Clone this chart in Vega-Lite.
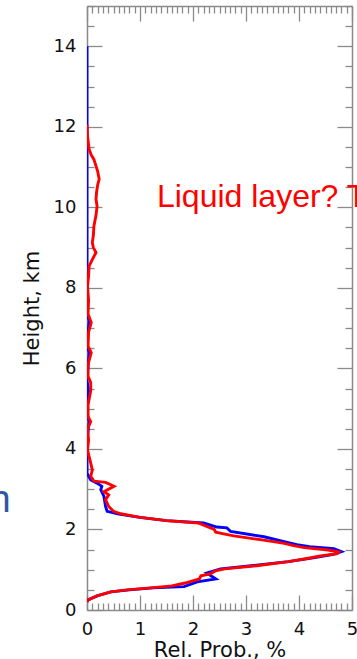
{
  "$schema": "https://vega.github.io/schema/vega-lite/v6.json",
  "autosize": "none",
  "width": 265,
  "height": 604,
  "padding": {"left": 87, "top": 6, "right": 5, "bottom": 49},
  "background": "white",
  "config": {
    "view": {"stroke": null},
    "axis": {
      "labelFont": "DejaVu Sans", "labelFontSize": 18, "labelColor": "#111",
      "titleFont": "DejaVu Sans", "titleFontSize": 21, "titleFontWeight": "normal", "titleColor": "#111",
      "domainColor": "#8a8a8a", "domainWidth": 1.5, "tickColor": "#8a8a8a", "tickWidth": 1.3, "grid": false
    }
  },
  "datasets": {
    "profiles": [
      {"s": "red", "h": 0.20, "p": 0.0}, {"s": "red", "h": 0.25, "p": 0.02}, {"s": "red", "h": 0.35, "p": 0.19},
      {"s": "red", "h": 0.45, "p": 0.45}, {"s": "red", "h": 0.50, "p": 0.75}, {"s": "red", "h": 0.55, "p": 1.2},
      {"s": "red", "h": 0.60, "p": 1.6}, {"s": "red", "h": 0.67, "p": 1.85}, {"s": "red", "h": 0.77, "p": 2.12},
      {"s": "red", "h": 0.85, "p": 2.15}, {"s": "red", "h": 0.90, "p": 2.33}, {"s": "red", "h": 0.97, "p": 2.42},
      {"s": "red", "h": 1.02, "p": 2.6}, {"s": "red", "h": 1.10, "p": 3.2}, {"s": "red", "h": 1.20, "p": 3.8},
      {"s": "red", "h": 1.28, "p": 4.15}, {"s": "red", "h": 1.34, "p": 4.4}, {"s": "red", "h": 1.40, "p": 4.72},
      {"s": "red", "h": 1.44, "p": 4.75}, {"s": "red", "h": 1.49, "p": 4.55}, {"s": "red", "h": 1.55, "p": 4.1},
      {"s": "red", "h": 1.60, "p": 3.9}, {"s": "red", "h": 1.66, "p": 3.7}, {"s": "red", "h": 1.74, "p": 3.3},
      {"s": "red", "h": 1.84, "p": 2.77}, {"s": "red", "h": 1.89, "p": 2.58}, {"s": "red", "h": 1.93, "p": 2.43},
      {"s": "red", "h": 2.00, "p": 2.40}, {"s": "red", "h": 2.07, "p": 2.27}, {"s": "red", "h": 2.16, "p": 2.1},
      {"s": "red", "h": 2.22, "p": 1.5}, {"s": "red", "h": 2.30, "p": 1.0}, {"s": "red", "h": 2.39, "p": 0.64},
      {"s": "red", "h": 2.45, "p": 0.5}, {"s": "red", "h": 2.57, "p": 0.41}, {"s": "red", "h": 2.74, "p": 0.35},
      {"s": "red", "h": 2.86, "p": 0.41}, {"s": "red", "h": 2.94, "p": 0.32}, {"s": "red", "h": 3.07, "p": 0.51},
      {"s": "red", "h": 3.13, "p": 0.42}, {"s": "red", "h": 3.17, "p": 0.35}, {"s": "red", "h": 3.20, "p": 0.13},
      {"s": "red", "h": 3.32, "p": 0.07}, {"s": "red", "h": 3.48, "p": 0.1}, {"s": "red", "h": 3.65, "p": 0.07},
      {"s": "red", "h": 3.81, "p": 0.04}, {"s": "red", "h": 3.98, "p": 0.01}, {"s": "red", "h": 4.23, "p": 0.03},
      {"s": "red", "h": 4.5, "p": 0.01}, {"s": "red", "h": 4.68, "p": 0.07}, {"s": "red", "h": 4.8, "p": 0.02},
      {"s": "red", "h": 5.1, "p": 0.02}, {"s": "red", "h": 5.44, "p": 0.07}, {"s": "red", "h": 5.65, "p": 0.07},
      {"s": "red", "h": 5.8, "p": 0.02}, {"s": "red", "h": 6.1, "p": 0.02}, {"s": "red", "h": 6.39, "p": 0.08},
      {"s": "red", "h": 6.55, "p": 0.02}, {"s": "red", "h": 6.9, "p": 0.03}, {"s": "red", "h": 7.14, "p": 0.08},
      {"s": "red", "h": 7.35, "p": 0.02}, {"s": "red", "h": 7.7, "p": 0.03}, {"s": "red", "h": 8.04, "p": 0.01},
      {"s": "red", "h": 8.3, "p": 0.03}, {"s": "red", "h": 8.54, "p": 0.04}, {"s": "red", "h": 8.7, "p": 0.1},
      {"s": "red", "h": 8.88, "p": 0.17}, {"s": "red", "h": 9.0, "p": 0.12}, {"s": "red", "h": 9.13, "p": 0.1},
      {"s": "red", "h": 9.3, "p": 0.12}, {"s": "red", "h": 9.53, "p": 0.13}, {"s": "red", "h": 9.8, "p": 0.17},
      {"s": "red", "h": 10.03, "p": 0.19}, {"s": "red", "h": 10.2, "p": 0.17}, {"s": "red", "h": 10.37, "p": 0.18},
      {"s": "red", "h": 10.55, "p": 0.2}, {"s": "red", "h": 10.7, "p": 0.23}, {"s": "red", "h": 10.9, "p": 0.2},
      {"s": "red", "h": 11.19, "p": 0.13}, {"s": "red", "h": 11.3, "p": 0.08}, {"s": "red", "h": 11.44, "p": 0.04},
      {"s": "red", "h": 11.77, "p": 0.01}, {"s": "red", "h": 12.05, "p": 0.0},
      {"s": "blue", "h": 0.20, "p": 0.0}, {"s": "blue", "h": 0.25, "p": 0.02}, {"s": "blue", "h": 0.35, "p": 0.19},
      {"s": "blue", "h": 0.45, "p": 0.45}, {"s": "blue", "h": 0.50, "p": 0.8}, {"s": "blue", "h": 0.55, "p": 1.25},
      {"s": "blue", "h": 0.58, "p": 1.83}, {"s": "blue", "h": 0.70, "p": 2.08}, {"s": "blue", "h": 0.77, "p": 2.43},
      {"s": "blue", "h": 0.83, "p": 2.36}, {"s": "blue", "h": 0.92, "p": 2.26}, {"s": "blue", "h": 1.02, "p": 2.52},
      {"s": "blue", "h": 1.10, "p": 3.1}, {"s": "blue", "h": 1.20, "p": 3.8}, {"s": "blue", "h": 1.30, "p": 4.3},
      {"s": "blue", "h": 1.38, "p": 4.65}, {"s": "blue", "h": 1.45, "p": 4.8}, {"s": "blue", "h": 1.52, "p": 4.66},
      {"s": "blue", "h": 1.57, "p": 4.2}, {"s": "blue", "h": 1.62, "p": 3.96}, {"s": "blue", "h": 1.70, "p": 3.72},
      {"s": "blue", "h": 1.82, "p": 3.34}, {"s": "blue", "h": 1.95, "p": 2.71}, {"s": "blue", "h": 2.04, "p": 2.64},
      {"s": "blue", "h": 2.06, "p": 2.45}, {"s": "blue", "h": 2.16, "p": 2.2}, {"s": "blue", "h": 2.22, "p": 1.5},
      {"s": "blue", "h": 2.30, "p": 1.0}, {"s": "blue", "h": 2.38, "p": 0.6}, {"s": "blue", "h": 2.45, "p": 0.38},
      {"s": "blue", "h": 2.57, "p": 0.35}, {"s": "blue", "h": 2.82, "p": 0.32}, {"s": "blue", "h": 2.99, "p": 0.26},
      {"s": "blue", "h": 3.07, "p": 0.28}, {"s": "blue", "h": 3.15, "p": 0.19}, {"s": "blue", "h": 3.23, "p": 0.07},
      {"s": "blue", "h": 3.40, "p": 0.0}, {"s": "blue", "h": 3.8, "p": 0.0}, {"s": "blue", "h": 4.2, "p": 0.0},
      {"s": "blue", "h": 4.68, "p": 0.04}, {"s": "blue", "h": 4.9, "p": 0.0}, {"s": "blue", "h": 5.44, "p": 0.03},
      {"s": "blue", "h": 5.7, "p": 0.0}, {"s": "blue", "h": 6.39, "p": 0.04}, {"s": "blue", "h": 6.6, "p": 0.0},
      {"s": "blue", "h": 7.18, "p": 0.04}, {"s": "blue", "h": 7.4, "p": 0.0}, {"s": "blue", "h": 9.0, "p": 0.0},
      {"s": "blue", "h": 14.0, "p": 0.0}
    ],
    "notes": [
      {"t": "Liquid layer? T", "p": 1.32, "h": 10.0, "c": "red"},
      {"t": "n", "p": -1.84, "h": 2.44, "c": "blue"}
    ]
  },
  "layer": [
    {
      "data": {"name": "profiles"},
      "transform": [{"filter": "datum.s === 'blue'"}],
      "mark": {"type": "line", "color": "#0000ff", "strokeWidth": 2.9, "clip": true},
      "encoding": {
        "x": {"field": "p", "type": "quantitative", "scale": {"domain": [0, 5], "nice": false},
          "axis": {"orient": "bottom", "title": "Rel. Prob., %",
            "values": [0,0.1,0.2,0.3,0.4,0.5,0.6,0.7,0.8,0.9,1,1.1,1.2,1.3,1.4,1.5,1.6,1.7,1.8,1.9,2,2.1,2.2,2.3,2.4,2.5,2.6,2.7,2.8,2.9,3,3.1,3.2,3.3,3.4,3.5,3.6,3.7,3.8,3.9,4,4.1,4.2,4.3,4.4,4.5,4.6,4.7,4.8,4.9,5],
            "labelExpr": "abs(datum.value - round(datum.value)) < 0.001 ? format(round(datum.value), 'd') : ''",
            "tickSize": {"condition": {"test": "abs(datum.value - round(datum.value)) < 0.001", "value": -15}, "value": -7},
            "labelPadding": 25, "labelBaseline": "top", "titlePadding": -7, "labelFlush": false, "labelOverlap": false}},
        "y": {"field": "h", "type": "quantitative", "scale": {"domain": [0, 15], "nice": false},
          "axis": {"orient": "left", "title": "Height, km",
            "values": [0,0.5,1,1.5,2,2.5,3,3.5,4,4.5,5,5.5,6,6.5,7,7.5,8,8.5,9,9.5,10,10.5,11,11.5,12,12.5,13,13.5,14,14.5,15],
            "labelExpr": "datum.value % 2 === 0 && datum.value < 15 ? format(datum.value, 'd') : ''",
            "tickSize": {"condition": {"test": "datum.value % 2 === 0", "value": -15}, "value": -7},
            "labelPadding": 26, "titlePadding": 11, "labelFlush": false, "labelOverlap": false}},
        "order": {"field": "h", "type": "quantitative"}
      }
    },
    {
      "data": {"name": "profiles"},
      "transform": [{"filter": "datum.s === 'red'"}],
      "mark": {"type": "line", "color": "#ff0000", "strokeWidth": 2.9, "clip": true},
      "encoding": {
        "x": {"field": "p", "type": "quantitative",
          "axis": {"orient": "top", "title": null, "labels": false,
            "values": [0,0.1,0.2,0.3,0.4,0.5,0.6,0.7,0.8,0.9,1,1.1,1.2,1.3,1.4,1.5,1.6,1.7,1.8,1.9,2,2.1,2.2,2.3,2.4,2.5,2.6,2.7,2.8,2.9,3,3.1,3.2,3.3,3.4,3.5,3.6,3.7,3.8,3.9,4,4.1,4.2,4.3,4.4,4.5,4.6,4.7,4.8,4.9,5],
            "tickSize": {"condition": {"test": "abs(datum.value - round(datum.value)) < 0.001", "value": -15}, "value": -7}}},
        "y": {"field": "h", "type": "quantitative",
          "axis": {"orient": "right", "title": null, "labels": false,
            "values": [0,0.5,1,1.5,2,2.5,3,3.5,4,4.5,5,5.5,6,6.5,7,7.5,8,8.5,9,9.5,10,10.5,11,11.5,12,12.5,13,13.5,14,14.5,15],
            "tickSize": {"condition": {"test": "datum.value % 2 === 0", "value": -15}, "value": -7}}},
        "order": {"field": "h", "type": "quantitative"}
      }
    },
    {
      "data": {"name": "notes"},
      "mark": {"type": "text", "align": "left", "baseline": "alphabetic", "font": "Liberation Sans"},
      "encoding": {
        "x": {"field": "p", "type": "quantitative", "axis": null},
        "y": {"field": "h", "type": "quantitative", "axis": null},
        "text": {"field": "t"},
        "color": {"field": "c", "type": "nominal", "scale": {"domain": ["red", "blue"], "range": ["#ff0000", "#2f55a4"]}, "legend": null},
        "size": {"field": "c", "type": "nominal", "scale": {"domain": ["red", "blue"], "range": [32, 38]}, "legend": null}
      }
    }
  ],
  "resolve": {"axis": {"x": "independent", "y": "independent"}}
}
